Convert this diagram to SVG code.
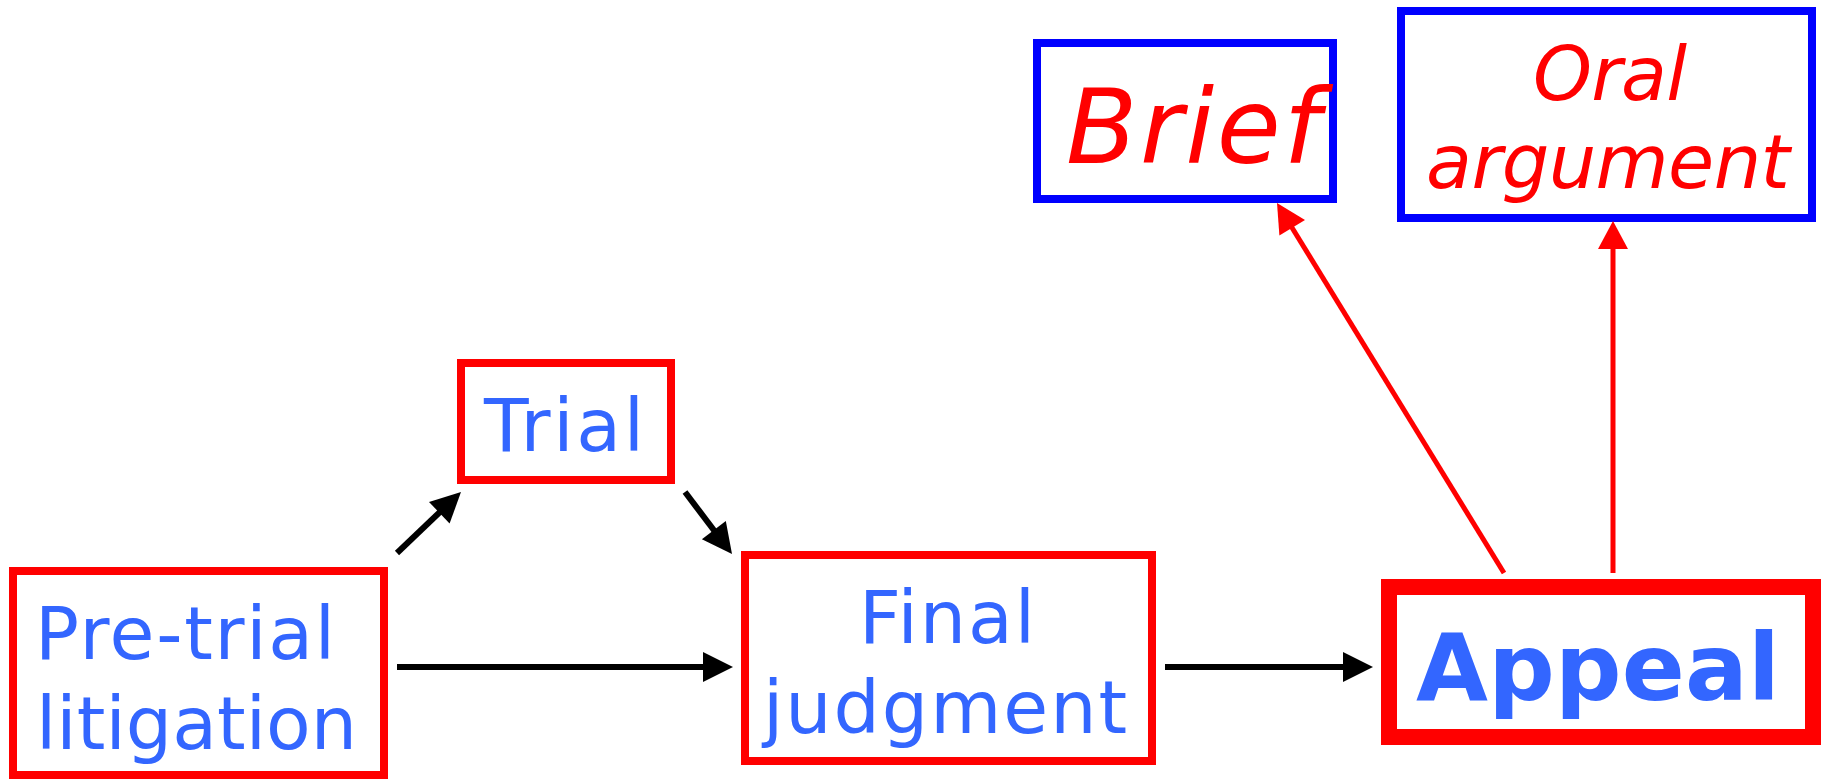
<svg xmlns="http://www.w3.org/2000/svg" width="1829" height="780" viewBox="0 0 1829 780">
<style>
.box{fill:#fff;stroke:#f00;stroke-width:8}
.bbox{fill:#fff;stroke:#00f;stroke-width:8}
.t{font-family:"DejaVu Sans",Verdana,sans-serif;font-size:73px;fill:#3366ff}
.it{font-family:"DejaVu Sans",Verdana,sans-serif;font-style:italic;fill:#f00}
.blk{stroke:#000;stroke-width:6;fill:none}
.red{stroke:#f00;stroke-width:5;fill:none}
</style>
<rect width="1829" height="780" fill="#fff"/>
<g id="pretrial">
<rect class="box" x="13" y="571" width="371" height="204"/>
<text class="t" x="35" y="659" textLength="300" lengthAdjust="spacing">Pre-trial</text>
<text class="t" x="36" y="749" textLength="321" lengthAdjust="spacing">litigation</text>
</g>
<g id="trial">
<rect class="box" x="461" y="363" width="210" height="117"/>
<text class="t" x="484" y="451" textLength="160" lengthAdjust="spacing">Trial</text>
</g>
<g id="final">
<rect class="box" x="745" y="555" width="407" height="206"/>
<text class="t" x="859" y="643" textLength="176" lengthAdjust="spacing">Final</text>
<text class="t" x="763" y="733" textLength="364" lengthAdjust="spacing">judgment</text>
</g>
<g id="appeal">
<rect class="box" x="1389" y="587" width="424" height="150" style="stroke-width:16"/>
<text class="t" x="1416" y="700" style="font-size:93px;font-weight:bold" textLength="364" lengthAdjust="spacing">Appeal</text>
</g>
<g id="brief">
<rect class="bbox" x="1037" y="43" width="296" height="156"/>
<text class="it" x="1066" y="163" style="font-size:104px" textLength="254" lengthAdjust="spacing">Brief</text>
</g>
<g id="oral">
<rect class="bbox" x="1401" y="11" width="411" height="207"/>
<text class="it" x="1533" y="100" style="font-size:75px" textLength="154" lengthAdjust="spacing">Oral</text>
<text class="it" x="1426" y="188" style="font-size:75px" textLength="364" lengthAdjust="spacing">argument</text>
</g>
<g id="connectors">
<line class="blk" x1="397" y1="553" x2="442" y2="510"/>
<polygon points="461,492 449.6,523.6 429,501.9" fill="#000"/>
<line class="blk" x1="685" y1="492" x2="716" y2="533"/>
<polygon points="732,554 725.8,521 701.9,539.2" fill="#000"/>
<line class="blk" x1="397" y1="667" x2="705" y2="667"/>
<polygon points="703,652 733,667 703,682" fill="#000"/>
<line class="blk" x1="1165" y1="667" x2="1345" y2="667"/>
<polygon points="1343,652 1373,667 1343,682" fill="#000"/>
<line class="red" x1="1504" y1="573" x2="1291" y2="226"/>
<polygon points="1277,203 1305,219.9 1279.4,235.5" fill="#f00"/>
<line class="red" x1="1613" y1="573" x2="1613" y2="247"/>
<polygon points="1598,249 1613,221 1628,249" fill="#f00"/>
</g>
</svg>
